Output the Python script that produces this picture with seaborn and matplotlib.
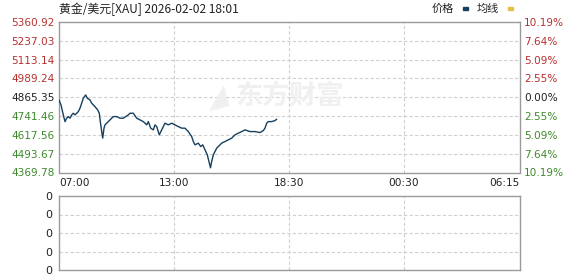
import numpy as np
import pandas as pd
import matplotlib
matplotlib.use("Agg")
import matplotlib.pyplot as plt
import seaborn as sns

# ---------------- data ----------------
title_text = "黄金/美元[XAU] 2026-02-02 18:01"
prev_close = 4865.35
y_ticks = [4369.78, 4493.67, 4617.56, 4741.46, 4865.35, 4989.24, 5113.14, 5237.03, 5360.92]
pct_labels = ["10.19%", "7.64%", "5.09%", "2.55%", "0.00%", "2.55%", "5.09%", "7.64%", "10.19%"]
x_tick_pos = [0, 115, 230, 345, 461]
x_tick_labels = ["07:00", "13:00", "18:30", "00:30", "06:15"]

# time slot (0 = 07:00, 461 = 06:15 next day) and price
slot = [0.0, 2.0, 4.3, 6.0, 7.7, 9.3, 11.0, 12.7, 14.3, 16.0, 17.7, 19.3, 21.0, 22.7,
        24.3, 26.7, 28.3, 31.0, 32.7, 36.0, 38.7, 40.3, 41.3, 42.7, 43.7, 45.0, 46.0,
        47.7, 49.3, 51.0, 52.7, 54.3, 57.7, 61.0, 64.3, 66.7, 69.3, 71.0, 74.3, 77.7,
        81.0, 84.3, 86.0, 87.7, 89.3, 91.7, 94.3, 96.0, 97.7, 100.3, 102.7, 104.3,
        106.0, 109.3, 112.7, 116.0, 119.3, 122.7, 126.0, 129.3, 132.7, 134.3, 136.0,
        139.3, 141.7, 143.7, 146.0, 148.3, 149.5, 151.5, 152.7, 154.3, 156.0, 157.7,
        159.3, 162.7, 166.0, 169.3, 172.7, 176.0, 179.3, 182.7, 186.0, 191.0, 196.0,
        201.0, 204.3, 206.0, 207.7, 209.3, 212.7, 216.0, 217.7]
price = [4847.6, 4814.8, 4749.1, 4705.0, 4727.4, 4737.9, 4727.4, 4749.1, 4760.2, 4749.1,
         4760.2, 4770.7, 4793.1, 4825.9, 4858.8, 4880.5, 4858.8, 4847.6, 4825.9, 4803.6,
         4781.9, 4760.2, 4705.0, 4639.3, 4596.0, 4661.7, 4683.4, 4694.5, 4705.0, 4716.2,
         4727.4, 4737.9, 4737.9, 4727.4, 4727.4, 4737.9, 4749.1, 4760.2, 4760.2, 4727.4,
         4716.2, 4705.0, 4694.5, 4683.4, 4705.0, 4661.7, 4650.5, 4683.4, 4672.2, 4617.7,
         4650.5, 4672.2, 4694.5, 4683.4, 4694.5, 4683.4, 4672.2, 4661.7, 4661.7, 4639.3,
         4606.5, 4573.7, 4552.0, 4563.1, 4540.8, 4552.0, 4519.1, 4486.3, 4453.4, 4400.9,
         4442.2, 4486.3, 4508.0, 4530.3, 4540.8, 4563.1, 4573.7, 4584.8, 4596.0, 4617.7,
         4628.9, 4639.3, 4650.5, 4639.3, 4639.3, 4632.8, 4645.9, 4661.7, 4694.5, 4705.0,
         4705.0, 4711.6, 4720.8]

vol_ticks = [0, 1, 2, 3, 4]
vol_labels = ["0", "0", "0", "0", "0"]

df = pd.DataFrame({"slot": slot, "price": price})

# ---------------- style ----------------
sns.set_style("white")
plt.rcParams["font.family"] = ["DejaVu Sans", "Noto Sans CJK SC"]

RED = "#b8312f"
GREEN = "#3f8a2c"
DARK = "#222222"
LINE = "#16405f"
GRID = "#cfcfcf"
SPINE = "#9a9a9a"
WM = "#f0f0f0"

W, H = 578, 276
fig = plt.figure(figsize=(W / 100, H / 100), dpi=100)

def rect(l, t, r, b):
    return [l / W, 1 - b / H, (r - l) / W, (b - t) / H]

ax = fig.add_axes(rect(59, 22, 520, 172.5))
axv = fig.add_axes(rect(59, 196, 520, 270))

# watermark
fig.text(235 / W, 1 - 97 / H, "东方财富", fontsize=19.5, fontweight="bold",
         color=WM, family=["Noto Sans CJK SC"], ha="left", va="center", zorder=0)
fig.text(202 / W, 1 - 97 / H, "◢", fontsize=20, color=WM, ha="left", va="center",
         rotation=15, zorder=0)

sns.lineplot(data=df, x="slot", y="price", ax=ax, color=LINE, linewidth=1.0, zorder=3)

ax.set_xlim(0, 461)
ax.set_ylim(y_ticks[0], y_ticks[-1])
ax.set_yticks(y_ticks)
ax.set_yticklabels([f"{v:.2f}" for v in y_ticks], fontsize=7.6)
for lbl, v in zip(ax.get_yticklabels(), y_ticks):
    lbl.set_color(RED if v > prev_close else (GREEN if v < prev_close else DARK))
ax.set_xticks(x_tick_pos)
ax.set_xticklabels(x_tick_labels, fontsize=7.6, color=DARK)
labs = ax.get_xticklabels()
labs[0].set_ha("left")
labs[-1].set_ha("right")
ax.tick_params(axis="both", length=0, pad=3)
ax.tick_params(axis="x", pad=4)
ax.set_xlabel("")
ax.set_ylabel("")
for v in y_ticks[1:-1]:
    ax.axhline(v, color=GRID, linestyle=(0, (3, 2)), linewidth=0.8, zorder=1)
for v in x_tick_pos[1:-1]:
    ax.axvline(v, color=GRID, linestyle=(0, (3, 2)), linewidth=0.8, zorder=1)
for s in ax.spines.values():
    s.set_color(SPINE)
    s.set_linewidth(1.0)
ax.patch.set_alpha(0)

ax2 = ax.twinx()
ax2.set_ylim(y_ticks[0], y_ticks[-1])
ax2.set_yticks(y_ticks)
ax2.set_yticklabels(pct_labels, fontsize=7.6)
for lbl, v in zip(ax2.get_yticklabels(), y_ticks):
    lbl.set_color(RED if v > prev_close else (GREEN if v < prev_close else DARK))
ax2.tick_params(axis="y", length=0, pad=3)
for s in ax2.spines.values():
    s.set_visible(False)

# volume panel
axv.set_xlim(0, 461)
axv.set_ylim(vol_ticks[0], vol_ticks[-1])
axv.set_yticks(vol_ticks)
axv.set_yticklabels(vol_labels, fontsize=8, color=DARK)
axv.set_xticks([])
axv.tick_params(axis="y", length=0, pad=5)
for v in vol_ticks[1:-1]:
    axv.axhline(v, color=GRID, linestyle=(0, (3, 2)), linewidth=0.8)
for v in x_tick_pos[1:-1]:
    axv.axvline(v, color=GRID, linestyle=(0, (3, 2)), linewidth=0.8)
for s in axv.spines.values():
    s.set_color(SPINE)
    s.set_linewidth(1.0)

# title and legend
fig.text(59 / W, 1 - 9 / H, title_text, fontsize=8.6, color=DARK,
         family=["Noto Sans CJK SC", "DejaVu Sans"], ha="left", va="center")
fig.text(432 / W, 1 - 9 / H, "价格", fontsize=8, color=DARK,
         family=["Noto Sans CJK SC"], ha="left", va="center")
fig.text(477 / W, 1 - 9 / H, "均线", fontsize=8, color=DARK,
         family=["Noto Sans CJK SC"], ha="left", va="center")
fig.patches.append(plt.Rectangle((463 / W, 1 - 10 / H), 5 / W, 2.5 / H,
                                 transform=fig.transFigure, color=LINE, figure=fig))
fig.patches.append(plt.Rectangle((508 / W, 1 - 10 / H), 5 / W, 2.5 / H,
                                 transform=fig.transFigure, color="#e5c04a", figure=fig))

fig.savefig("out.png", dpi=100)
